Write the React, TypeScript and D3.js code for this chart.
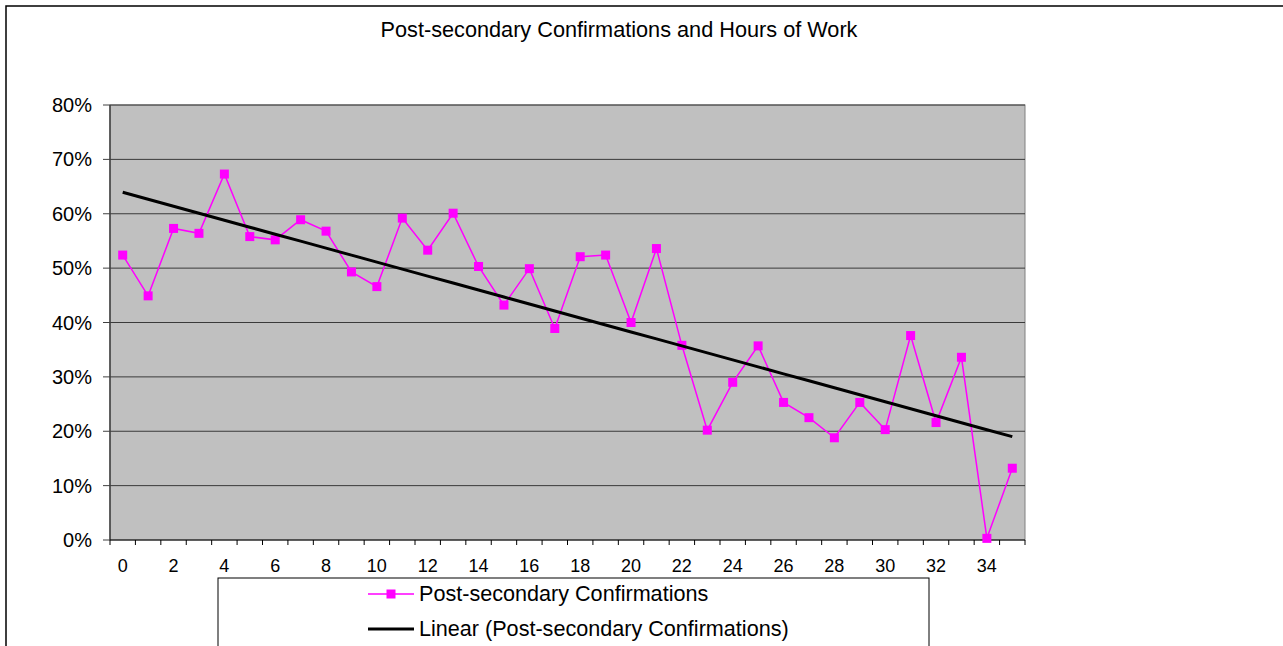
import React from 'react';
import * as d3 from 'd3';

const title = 'Post-secondary Confirmations and Hours of Work';
const seriesName = 'Post-secondary Confirmations';
const trendName = 'Linear (Post-secondary Confirmations)';

const categories = d3.range(36).map(String);
const confirmations = [
  52.4, 44.9, 57.3, 56.4, 67.3, 55.8, 55.2, 58.9, 56.8, 49.3, 46.6, 59.2,
  53.3, 60.1, 50.3, 43.2, 49.9, 38.9, 52.1, 52.4, 40.0, 53.6, 35.8, 20.2,
  29.0, 35.7, 25.3, 22.5, 18.8, 25.3, 20.3, 37.6, 21.6, 33.6, 0.3, 13.2,
];
const yTicks = [0, 10, 20, 30, 40, 50, 60, 70, 80];

const W = 1283;
const H = 646;
const plot = { left: 110, right: 1025, top: 105, bottom: 540 };
const font = '"Liberation Sans", Arial, sans-serif';

// least squares fit, the way the spreadsheet trendline does it
function linearFit(ys: number[]) {
  const xs = ys.map((_, i) => i);
  const mx = d3.mean(xs)!;
  const my = d3.mean(ys)!;
  let num = 0;
  let den = 0;
  xs.forEach((x, i) => {
    num += (x - mx) * (ys[i] - my);
    den += (x - mx) * (x - mx);
  });
  const slope = num / den;
  const icept = my - slope * mx;
  return xs.map(x => icept + slope * x);
}

export default function App() {
  const x = d3.scaleBand().domain(categories).range([plot.left, plot.right]);
  const cx = (c: string) => x(c)! + x.bandwidth() / 2;
  const y = d3.scaleLinear().domain([0, 80]).range([plot.bottom, plot.top]);

  const trend = linearFit(confirmations);

  const line = d3.line<number>()
    .x((_, i) => cx(categories[i]))
    .y(d => y(d));

  const boundaries = d3.range(categories.length + 1).map(i => plot.left + i * x.bandwidth());

  return (
    <svg width={W} height={H} style={{ position: 'absolute', left: 0, top: 0, background: '#fff' }}
      fontFamily={font}>
      <rect x={6} y={6} width={W + 20} height={H + 20} fill="#fff" stroke="#000" strokeWidth={1.5} />
      <text x={619} y={37} textAnchor="middle" fontSize={21.7}>{title}</text>

      <rect x={plot.left} y={plot.top} width={plot.right - plot.left} height={plot.bottom - plot.top}
        fill="#C0C0C0" stroke="#808080" strokeWidth={1} />

      {yTicks.slice(1).map(t => (
        <line key={'g' + t} x1={plot.left} x2={plot.right} y1={y(t)} y2={y(t)} stroke="#3a3a3a" strokeWidth={1} />
      ))}

      <line x1={plot.left} x2={plot.left} y1={plot.top} y2={plot.bottom} stroke="#404040" strokeWidth={1.5} />
      {yTicks.map(t => (
        <g key={'y' + t}>
          <line x1={103} x2={plot.left} y1={y(t)} y2={y(t)} stroke="#404040" />
          <text x={92} y={y(t) + 7} textAnchor="end" fontSize={20}>{t}%</text>
        </g>
      ))}

      <line x1={plot.left} x2={plot.right} y1={plot.bottom} y2={plot.bottom} stroke="#000" strokeWidth={1} />
      {boundaries.map((b, i) => (
        <line key={'t' + i} x1={b} x2={b} y1={plot.bottom} y2={plot.bottom + 5} stroke="#000" />
      ))}
      {categories.filter((_, i) => i % 2 === 0).map(c => (
        <text key={'x' + c} x={cx(c)} y={572} textAnchor="middle" fontSize={18}>{c}</text>
      ))}

      <path d={line(confirmations)!} fill="none" stroke="#FF00FF" strokeWidth={1.5} />
      {confirmations.map((v, i) => (
        <rect key={'m' + i} x={cx(categories[i]) - 4.5} y={y(v) - 4.5} width={9} height={9} fill="#FF00FF" />
      ))}
      <path d={line(trend)!} fill="none" stroke="#000" strokeWidth={3} />

      <rect x={218} y={578} width={711} height={100} fill="#fff" stroke="#000" strokeWidth={1} />
      <line x1={368} x2={414} y1={594} y2={594} stroke="#FF00FF" strokeWidth={1.5} />
      <rect x={386.5} y={589.5} width={9} height={9} fill="#FF00FF" />
      <text x={419} y={601} fontSize={21.6}>{seriesName}</text>
      <line x1={368} x2={414} y1={629} y2={629} stroke="#000" strokeWidth={3} />
      <text x={419} y={636} fontSize={21.6}>{trendName}</text>
    </svg>
  );
}
